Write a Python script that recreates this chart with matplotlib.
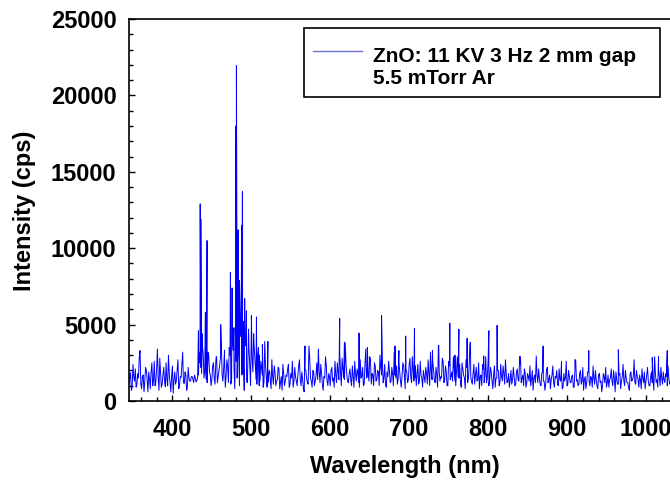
import numpy as np
import matplotlib.pyplot as plt
from matplotlib.patches import Rectangle
from matplotlib.lines import Line2D
from matplotlib.ticker import MultipleLocator

plt.rcParams['font.family'] = ['Liberation Sans', 'DejaVu Sans']
plt.rcParams['font.weight'] = 'bold'

# background counts at odd wavelengths, 345, 347, ... 1031 nm
odd_start = 345
baseline_odd = [
    1200, 1850, 900, 1600, 2100, 1100, 1500, 3300, 800, 1700, 1300, 2000, 600, 1450, 1900, 1000, 2600, 1250, 3400, 700,
    1800, 1100, 2200, 950, 1400, 3000, 1200, 1650, 500, 1900, 1350, 2700, 1000, 1550, 3200, 1150, 1750, 900, 1500, 1300,
    1600, 1200, 1500, 1350, 1700, 2500, 1800, 3100, 2000, 1400, 2800, 1900, 1000, 2300, 1500, 2600, 1200, 2000, 2900, 1700,
    2200, 900, 2700, 1200, 3000, 1400, 3300, 800, 2600, 3800, 1000, 4200, 1800, 700, 3600, 1200, 3400, 1000, 2800, 4400,
    2500, 1100, 3500, 1300, 2200, 900, 3900, 1500, 1200, 2000, 800, 1600, 2300, 1000, 1400, 2100, 1200, 700, 1800, 1300,
    1600, 2400, 1100, 1500, 900, 2200, 1300, 1700, 2700, 1000, 1450, 600, 2000, 1200, 3600, 1500, 900, 1900, 1300, 2500,
    3300, 1200, 1800, 700, 1500, 2300, 1000, 1600, 2000, 1300, 900, 1700, 2500, 1400, 1900, 2800, 1500, 3800, 1700, 1200,
    2100, 1000, 1600, 2600, 1300, 1800, 900, 1500, 2200, 1100, 3400, 1600, 1300, 2700, 1800, 1000, 2300, 1400, 1900, 3000,
    1700, 1200, 2400, 900, 1600, 2000, 1300, 1800, 3200, 1500, 1100, 2600, 1300, 1700, 2300, 800, 1900, 1400, 2800, 1200,
    2000, 1500, 1000, 2400, 1300, 1700, 900, 1600, 2200, 1100, 1800, 3200, 1400, 2000, 1200, 1700, 3600, 1300, 1500, 2600,
    1400, 1900, 1000, 2300, 1600, 1300, 2100, 1000, 2900, 1500, 1200, 2500, 1700, 800, 2200, 1400, 3800, 1300, 1800, 1100,
    2200, 1400, 800, 1700, 2400, 1200, 2900, 1500, 1000, 2200, 1300, 1700, 900, 1500, 2000, 1200, 1600, 2300, 1100, 1800,
    1300, 900, 2000, 1400, 1600, 1100, 2100, 1300, 2900, 1500, 1000, 1800, 1200, 1600, 2300, 1400, 700, 1700, 2950, 1200,
    1500, 1000, 1900, 1300, 1100, 2200, 1400, 800, 1700, 1200, 1600, 2000, 1000, 1400, 1800, 900, 1300, 2600, 1100, 1600,
    1200, 1700, 900, 2700, 1400, 1100, 2000, 1300, 700, 1600, 1200, 1900, 1000, 1500, 2300, 1100, 1400, 800, 1800, 1300,
    1000, 1600, 2200, 1200, 900, 1500, 1300, 2000, 600, 1400, 1100, 1800, 1300, 2400, 1000, 1500, 1200, 700, 1900, 1400,
    2700, 1100, 1600, 900, 1400, 2100, 1200, 800, 1700, 1300, 1000, 1900, 1500, 2900, 1200, 900, 1600, 2200, 1100, 1400,
    1800, 1000, 1500, 1200,
]

# background counts at even wavelengths, 346, 348, ... 1030 nm
even_start = 346
baseline_even = [
    1500, 700, 2400, 1300, 900, 1800, 2900, 1100, 1600, 600, 2200, 1400, 1900, 800, 2500, 1300, 1000, 2100, 1500, 2800,
    900, 1700, 1300, 2500, 1000, 1800, 600, 2300, 1400, 1100, 2000, 800, 1600, 2400, 1200, 1900, 700, 2200, 1300, 1600,
    1400, 1700, 1250, 1550, 3200, 2200, 4400, 1500, 2100, 1200, 3000, 1700, 1400, 2500, 1100, 2900, 1600, 2400, 3800, 1300,
    2900, 1600, 2300, 3500, 1100, 3900, 2200, 4800, 1500, 3100, 5200, 1700, 2600, 4100, 1300, 3700, 2400, 4600, 1900, 3300,
    1400, 3000, 1000, 2600, 1700, 1200, 2300, 900, 1800, 1400, 2700, 1100, 1900, 1300, 2200, 800, 1600, 2400, 1000, 1700,
    2100, 900, 1800, 2600, 1300, 1600, 1000, 2300, 1400, 1900, 800, 2100, 1500, 1100, 2800, 1300, 2000, 1000, 1700, 1400,
    1900, 2400, 1100, 1600, 2900, 1300, 1800, 1000, 2200, 1500, 2600, 1200, 1900, 3100, 1000, 2100, 1400, 2400, 1300, 1800,
    1400, 2300, 900, 1800, 2100, 1200, 2700, 1600, 1000, 2400, 1500, 1900, 2900, 1100, 1700, 2500, 1300, 2000, 1000, 2200,
    2800, 1500, 1100, 1900, 2600, 1200, 2200, 1000, 1700, 2300, 1400, 1900, 900, 2500, 1500, 2100, 1200, 2400, 1600, 2900,
    1300, 2300, 1700, 1100, 2600, 1500, 2000, 1200, 1800, 2700, 1000, 1900, 2500, 1300, 2200, 900, 2000, 1600, 2800, 1200,
    2300, 1000, 2600, 1400, 1900, 2900, 1300, 2000, 1600, 2400, 900, 2100, 1500, 2700, 1200, 2300, 1600, 1100, 2400, 1700,
    1300, 2500, 1600, 1000, 2100, 1700, 1200, 2600, 1400, 1900, 800, 2300, 1500, 2000, 1000, 2400, 1300, 1800, 2700, 1200,
    1800, 1400, 1100, 2200, 1000, 1900, 1400, 2400, 1200, 1700, 2100, 900, 1800, 1300, 1000, 2000, 1500, 1200, 1700, 2100,
    1100, 1800, 1300, 700, 2000, 1200, 1700, 1400, 2300, 900, 1500, 1100, 2100, 1300, 800, 1800, 1500, 1000, 2000, 1200,
    1600, 900, 2000, 1300, 1000, 1800, 1100, 2200, 1400, 800, 1900, 1300, 1600, 900, 1500, 2000, 1000, 1700, 1200, 600,
    1800, 1200, 900, 1700, 1400, 2100, 1000, 1500, 1900, 1100, 1700, 800, 1600, 1300, 2000, 1200, 900, 1800, 1300, 1600,
    1200, 2000, 1400, 1700, 800, 1500, 1900, 1300, 2200, 1000, 1600, 1200, 700, 1800, 1400, 2100, 1000, 1500, 1900, 1200,
    1600, 2300, 1100,
]

# emission lines (nm, cps)
line_wl = [433.0, 435.2, 436.0, 438.0, 441.8, 443.9, 445.0, 455.5, 461.2, 466.0,
           473.5, 475.6, 478.0, 480.2, 481.1, 482.0, 483.2, 485.0, 487.8, 488.7,
           489.8, 491.6, 493.8, 496.5, 500.1, 503.0, 506.5, 510.0, 514.0, 521.0,
           568.0, 585.0, 612.0, 618.0, 636.5, 647.0, 665.0, 682.0, 687.0, 695.6,
           706.7, 729.5, 737.5, 751.5, 758.0, 763.0, 773.4, 777.7, 794.5, 801.0,
           811.4, 840.0, 861.0, 869.7, 893.0, 910.0, 927.6, 965.0, 985.0, 1008.0,
           1016.0, 1027.0]
line_cps = [4600, 12900, 11900, 3600, 5800, 10500, 3200, 2900, 5000, 3300,
            8400, 7400, 4800, 18000, 21950, 6000, 11200, 7900, 11500, 13700,
            5200, 6700, 5900, 4700, 5600, 4200, 5500, 3000, 3700, 3900,
            3600, 3400, 5400, 3850, 4450, 3500, 5600, 3600, 3300, 4250,
            4750, 3300, 3650, 5100, 3000, 4700, 4100, 3850, 2950, 4600,
            4950, 2900, 2950, 3600, 2600, 2700, 3300, 3350, 2700, 2850,
            2900, 3300]

legend_text = ["ZnO: 11 KV 3 Hz 2 mm gap", "5.5 mTorr Ar"]

wl = np.concatenate([odd_start + 2 * np.arange(len(baseline_odd)),
                     even_start + 2 * np.arange(len(baseline_even)),
                     line_wl])
cps = np.concatenate([baseline_odd, baseline_even, line_cps])
order = np.argsort(wl)
wl, cps = wl[order], cps[order]

fig = plt.figure(figsize=(6.7, 4.83), dpi=100)
ax = fig.add_axes([129 / 670, 1 - 401 / 483, 541 / 670, 382 / 483])

ax.plot(wl, cps, color='#0000ff', lw=0.7)

ax.set_xlim(345, 1030.5)
ax.set_ylim(0, 25000)
ax.xaxis.set_major_locator(MultipleLocator(100))
ax.xaxis.set_minor_locator(MultipleLocator(20))
ax.yaxis.set_major_locator(MultipleLocator(5000))
ax.yaxis.set_minor_locator(MultipleLocator(1000))
ax.tick_params(which='both', direction='in', width=1.0, colors='black')
ax.tick_params(which='major', length=4)
ax.tick_params(which='minor', length=3)
ax.tick_params(axis='x', which='major', labelsize=17, pad=12)
ax.tick_params(axis='y', which='major', labelsize=17, pad=9)
ax.tick_params(top=False, right=False, which='both')
for lab in ax.get_xticklabels() + ax.get_yticklabels():
    lab.set_fontweight('bold')
for side in ['left', 'bottom', 'top']:
    ax.spines[side].set_linewidth(1.2)
ax.spines['right'].set_visible(False)

fig.text(405 / 670, 1 - 467 / 483, "Wavelength (nm)", ha='center', va='center',
         fontsize=17, fontweight='bold')
fig.text(25 / 670, 1 - 211 / 483, "Intensity (cps)", ha='center', va='center',
         rotation=90, fontsize=17, fontweight='bold')

# legend box drawn by hand so the sample line sits at the first text row
fig.patches.append(Rectangle((304 / 670, 1 - 97 / 483), 356 / 670, 69 / 483,
                             transform=fig.transFigure, fill=True, facecolor='white',
                             edgecolor='black', lw=1.2, zorder=5))
fig.lines.append(Line2D([313 / 670, 362 / 670], [1 - 51 / 483, 1 - 51 / 483],
                        transform=fig.transFigure, color='#7070d8', lw=1.0, zorder=6))
fig.text(373 / 670, 1 - 56 / 483, legend_text[0], ha='left', va='center',
         fontsize=15, fontweight='bold', zorder=6)
fig.text(373 / 670, 1 - 78 / 483, legend_text[1], ha='left', va='center',
         fontsize=15, fontweight='bold', zorder=6)

fig.savefig('out.png', dpi=100)
